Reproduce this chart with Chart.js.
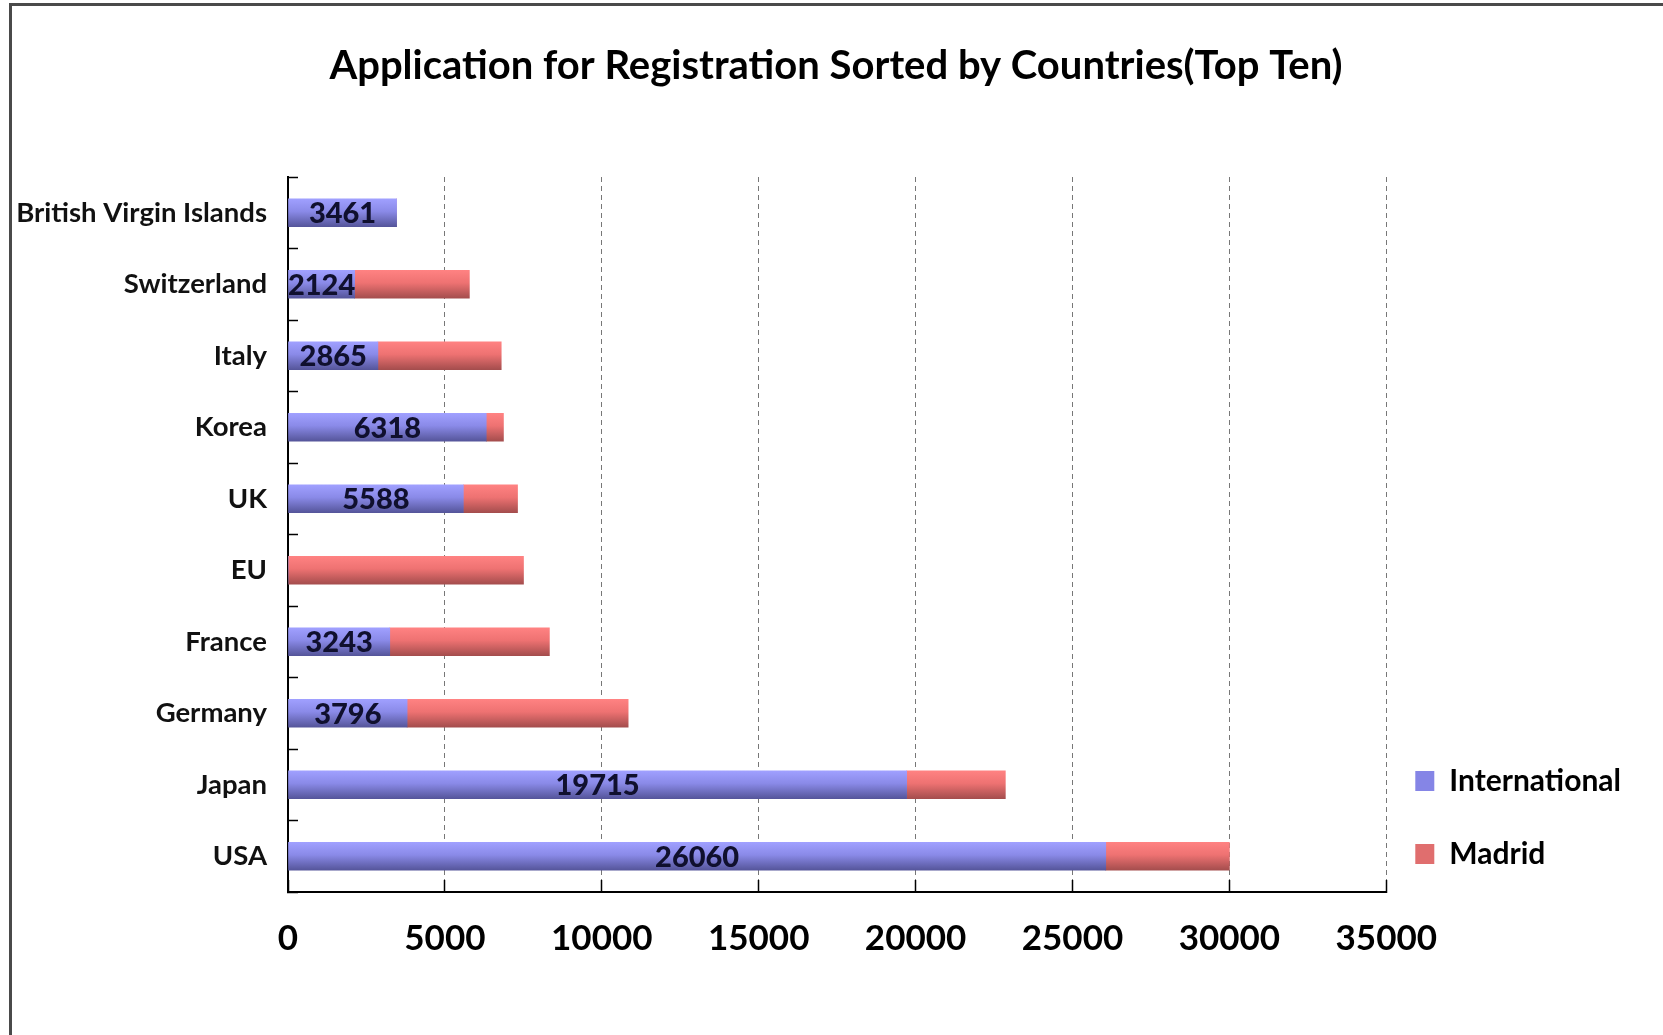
<!DOCTYPE html>
<html>
<head>
<meta charset="utf-8">
<script src="https://cdn.jsdelivr.net/npm/chart.js@4.4.1/dist/chart.umd.min.js"></script>
<style>
  html, body { margin: 0; padding: 0; background: #fff; overflow: hidden; }
  #frame { position: absolute; left: 9px; top: 3px; width: 1700px; height: 1100px;
           border-left: 3px solid #4a4a4a; border-top: 3px solid #4a4a4a; }
  #canvas { position: absolute; left: 0; top: 0; }
</style>
</head>
<body>
<div id="frame"></div>
<canvas id="canvas" width="1663" height="1035"></canvas>
<script>
var categories = ["British Virgin Islands", "Switzerland", "Italy", "Korea", "UK", "EU", "France", "Germany", "Japan", "USA"];
var international = [3461, 2124, 2865, 6318, 5588, 0, 3243, 3796, 19715, 26060];
var madrid = [0, 3656, 3930, 548, 1727, 7505, 5087, 7044, 3145, 3940];
var xTicks = [0, 5000, 10000, 15000, 20000, 25000, 30000, 35000];
var legendColors = ["#8585e6", "#e06e6e"];

var FONT = "Lato, 'Open Sans', sans-serif";

// vertical gradient per bar, light on top and darker at the bottom
function barFill(top, mid, bottom) {
  return function(ctx) {
    var chart = ctx.chart;
    if (ctx.type !== 'data' || !chart.chartArea) return mid;
    var y = chart.scales.y.getPixelForValue(ctx.dataIndex);
    var g = chart.ctx.createLinearGradient(0, y - 14, 0, y + 14);
    g.addColorStop(0, top);
    g.addColorStop(0.45, mid);
    g.addColorStop(1, bottom);
    return g;
  };
}

// numbers written inside the International bars
var valueLabels = {
  id: 'valueLabels',
  afterDatasetsDraw: function(chart) {
    var ctx = chart.ctx;
    var meta = chart.getDatasetMeta(0);
    ctx.save();
    ctx.font = "900 29px " + FONT;
    ctx.fillStyle = "#10102e";
    ctx.textAlign = "center";
    ctx.textBaseline = "middle";
    meta.data.forEach(function(bar, i) {
      var v = international[i];
      if (!v) return;
      ctx.fillText(String(v), (bar.x + bar.base) / 2, bar.y + 1);
    });
    ctx.restore();
  }
};

// nudge the title and the legend to where the original has them
var boxShift = {
  id: 'boxShift',
  afterLayout: function(chart) {
    var l = chart.legend;
    l.top += 20; l.bottom += 20;
    l.left -= 14; l.right -= 14;
    var t = chart.titleBlock;
    if (t) { t.left += 5; t.right += 5; }
  }
};

var ctx = document.getElementById("canvas").getContext("2d");
var myBar = new Chart(ctx, {
  type: 'bar',
  data: {
    labels: categories,
    datasets: [
      {
        label: "International",
        data: international,
        backgroundColor: barFill("#a0a0ff", "#8a8ae8", "#55559a"),
        barThickness: 28
      },
      {
        label: "Madrid",
        data: madrid,
        backgroundColor: barFill("#ff8282", "#ee7272", "#a44d4d"),
        barThickness: 28
      }
    ]
  },
  options: {
    indexAxis: 'y',
    responsive: false,
    animation: false,
    layout: { padding: { left: 17, right: 18, top: 0, bottom: 37 } },
    plugins: {
      title: {
        display: true,
        text: "Application for Registration Sorted by Countries(Top Ten)",
        color: "#000",
        font: { family: FONT, size: 40, weight: 'bold' },
        padding: { top: 42, bottom: 87 }
      },
      legend: {
        position: 'right',
        align: 'end',
        fullSize: false,
        labels: {
          color: "#000",
          font: { family: FONT, size: 30, weight: 'bold' },
          boxWidth: 19,
          boxHeight: 20,
          padding: 43,
          generateLabels: function(chart) {
            var items = Chart.defaults.plugins.legend.labels.generateLabels(chart);
            items.forEach(function(it, i) {
              it.fillStyle = legendColors[i];
              it.strokeStyle = legendColors[i];
              it.lineWidth = 0;
            });
            return items;
          }
        }
      },
      tooltip: { enabled: false }
    },
    scales: {
      x: {
        stacked: true,
        min: xTicks[0],
        max: xTicks[xTicks.length - 1],
        afterBuildTicks: function(scale) {
          scale.ticks = xTicks.map(function(v) { return { value: v }; });
        },
        border: { display: true, color: "#000", width: 2, dash: [5, 4] },
        grid: {
          color: function(c) { return c.index === 0 ? "rgba(0,0,0,0)" : "#777"; },
          lineWidth: 1,
          drawTicks: true,
          tickLength: -12,
          tickColor: "#000",
          tickWidth: 1.5,
          tickBorderDash: []
        },
        ticks: {
          color: "#000",
          font: { family: FONT, size: 35, weight: 'bold' },
          padding: 38,
          maxRotation: 0,
          callback: function(v) { return String(v); }
        }
      },
      y: {
        stacked: true,
        afterFit: function(scale) { scale.width = 271; },
        border: { display: true, color: "#000", width: 2 },
        grid: {
          drawOnChartArea: false,
          drawTicks: true,
          tickLength: -10,
          tickColor: "#000",
          tickWidth: 1.5
        },
        ticks: {
          color: "#111",
          font: { family: FONT, size: 27.5, weight: 'bold' },
          padding: 31
        }
      }
    }
  },
  plugins: [valueLabels, boxShift]
});
</script>
</body>
</html>
